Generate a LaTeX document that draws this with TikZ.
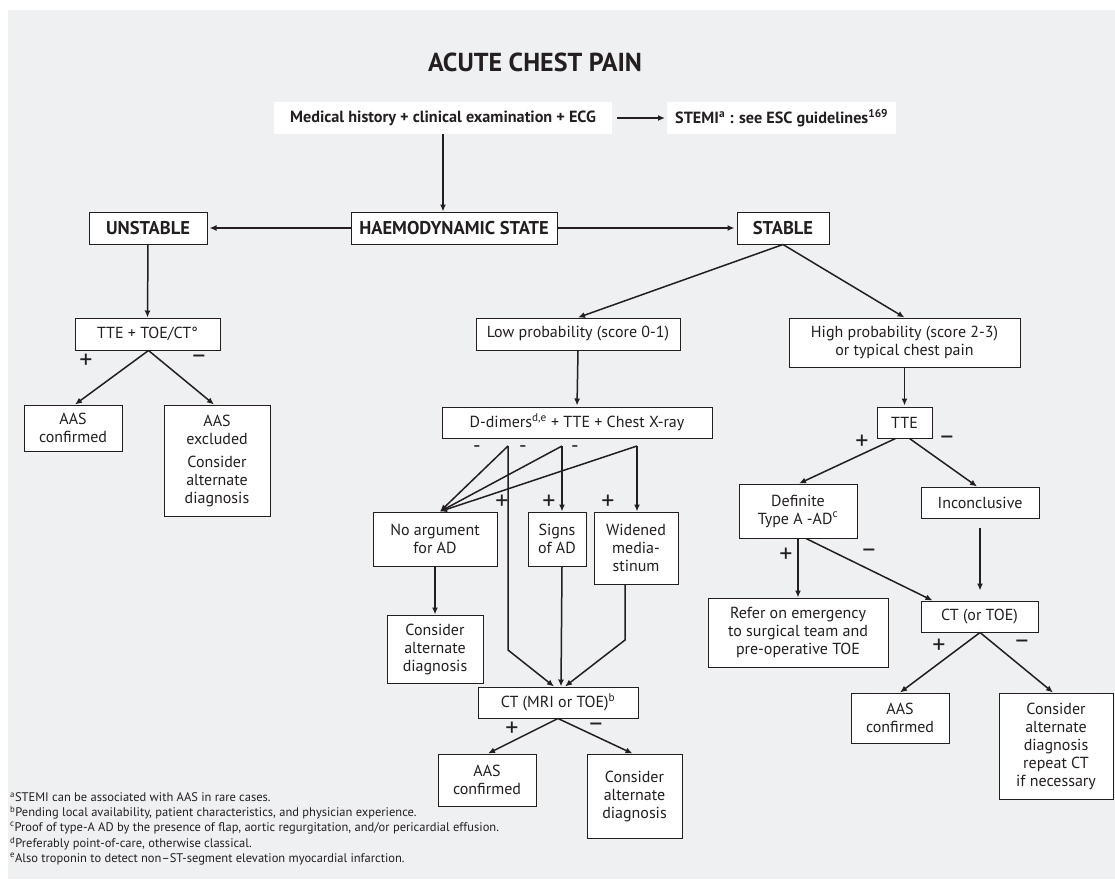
\documentclass[tikz,border=0pt]{standalone}
\usepackage{fontspec}
\setmainfont{PT Sans}
\usetikzlibrary{arrows.meta}
\definecolor{panel}{RGB}{239,240,242}
\definecolor{ink}{RGB}{35,31,32}
\begin{document}
\begin{tikzpicture}[x=1pt,y=-1pt,
  box/.style={draw=ink, fill=white, line width=1pt, align=center, inner sep=2pt,
              font=\fontsize{16}{18}\selectfont, text=ink},
  bbox/.style={box, font=\bfseries\fontsize{18.5}{21}\selectfont},
  plain/.style={fill=white, align=center, inner sep=2pt, font=\bfseries\fontsize{16.2}{18}\selectfont, text=ink},
  arr/.style={draw=ink, line width=1.5pt, -{Latex[length=7pt,width=6pt]}},
  ln/.style={draw=ink, line width=1.5pt},
  pm/.style={font=\fontsize{26}{26}\selectfont, text=ink, inner sep=0pt},
  hy/.style={font=\fontsize{21}{21}\selectfont, text=ink, inner sep=0pt},
  fn/.style={font=\fontsize{12.5}{14}\selectfont, anchor=west, inner sep=0pt, text=ink}]
\useasboundingbox (0,0) rectangle (1115,879);
\fill[white] (0,0) rectangle (1115,879);
\fill[panel] (8,10) rectangle (1115,879);

% title
\node[font=\bfseries\fontsize{26}{28}\selectfont, text=ink] (title) at (535,62) {ACUTE CHEST PAIN};

% top row
\node[plain, minimum width=338pt, minimum height=32pt] (med) at (443,118) {Medical history + clinical examination + ECG};
\node[plain, minimum height=32pt, inner xsep=8pt, anchor=west] (stemi) at (667,118) {STEMI\textsuperscript{a} : see ESC guidelines\textsuperscript{169}};

\node[bbox, minimum width=206pt, minimum height=32pt] (haemo) at (454,228) {HAEMODYNAMIC STATE};
\node[bbox, minimum width=118pt, minimum height=32pt] (unstable) at (148,228) {UNSTABLE};
\node[bbox, minimum width=92pt, minimum height=32pt] (stable) at (783,228) {STABLE};

% unstable branch
\node[box, minimum width=145pt, minimum height=32pt] (tte1) at (147.5,334) {TTE + TOE/CT°};
\node[box, minimum width=98pt, minimum height=46pt] (aas1) at (73,428) {AAS\\confirmed};
\node[box, minimum width=106pt, minimum height=111pt] (exc1) at (217,460.5) {AAS\\excluded\\[5pt]Consider\\alternate\\diagnosis};

% stable branch - low
\node[box, minimum width=204pt, minimum height=32pt] (low) at (578,334) {Low probability (score 0-1)};
\node[box, minimum width=270pt, minimum height=31pt] (dd) at (577,422.5) {D-dimers\textsuperscript{d,e} + TTE + Chest X-ray};
\node[box, minimum width=124pt, minimum height=54pt] (noarg) at (435,539) {No argument\\for AD};
\node[box, minimum width=58pt, minimum height=54pt, inner sep=1pt] (signs) at (557,539) {Signs\\of AD};
\node[box, minimum width=84pt, minimum height=72pt] (wide) at (636,548) {Widened\\media-\\stinum};
\node[box, minimum width=96pt, minimum height=68pt] (cons1) at (435,649) {Consider\\alternate\\diagnosis};
\node[box, minimum width=160pt, minimum height=31pt] (ct1) at (558,702.5) {CT (MRI or TOE)\textsuperscript{b}};
\node[box, minimum width=98pt, minimum height=52pt] (aas2) at (487,780) {AAS\\confirmed};
\node[box, minimum width=95pt, minimum height=84pt] (cons2) at (634.5,796) {Consider\\alternate\\diagnosis};

% stable branch - high
\node[box, minimum width=231pt, minimum height=49pt] (high) at (904.5,342.5) {High probability (score 2-3)\\or typical chest pain};
\node[box, minimum width=55pt, minimum height=31pt] (tte2) at (904.5,422.5) {TTE};
\node[box, minimum width=118pt, minimum height=54pt] (def) at (798,511) {Definite\\Type A -AD\textsuperscript{c}};
\node[box, minimum width=118pt, minimum height=31pt] (inc) at (980,502.5) {Inconclusive};
\node[box, minimum width=180pt, minimum height=69pt] (refer) at (798,632.5) {Refer on emergency\\to surgical team and\\pre-operative TOE};
\node[box, minimum width=117pt, minimum height=31pt] (ct2) at (979.5,616.5) {CT (or TOE)};
\node[box, minimum width=98pt, minimum height=50pt] (aas3) at (900,718) {AAS\\confirmed};
\node[box, minimum width=114pt, minimum height=106pt] (cons3) at (1056,746) {Consider\\alternate\\diagnosis\\repeat CT\\if necessary};

% connectors top
\draw[arr, shorten <=5pt, shorten >=2pt] (med.east) -- (stemi.west);
\draw[arr] (med.south) -- (med.south |- haemo.north);
\draw[arr, shorten >=2pt] (haemo.west) -- (unstable.east);
\draw[arr, shorten >=2pt] (haemo.east) -- (stable.west);
\draw[arr] (unstable.south) -- (tte1.north);
\draw[arr] ([xshift=1pt]tte1.south) -- ([xshift=2pt]aas1.north);
\draw[arr] ([xshift=1pt]tte1.south) -- ([xshift=-3pt]exc1.north);
\draw[arr] (stable.south) -- (low.north);
\draw[arr] (stable.south) -- (high.north);
\draw[arr, shorten >=1pt] (low.south) -- (dd.north);
\draw[arr, shorten >=1pt] (high.south) -- (tte2.north);

% D-dimer fan
\coordinate (p1) at (508,446);
\coordinate (p2) at (562,446);
\coordinate (p3) at (637,446);
\coordinate (k1) at (508,650);
\coordinate (k3) at (625,640);
\draw[arr] (p1) -- ([xshift=5pt]noarg.north);
\draw[arr] (p2) -- ([xshift=5pt]noarg.north);
\draw[arr] (p3) -- ([xshift=5pt]noarg.north);
\draw[arr] (p2) -- (p2 |- signs.north);
\draw[arr] (p3) -- (p3 |- wide.north);
\draw[arr] (p1) -- (k1) -- ([xshift=-4pt]ct1.north);
\draw[arr] (p2 |- signs.south) -- ([xshift=3pt]ct1.north);
\draw[arr] (k3 |- wide.south) -- (k3) -- ([xshift=7pt]ct1.north);
\draw[arr] (noarg.south) -- (cons1.north);
\draw[arr] (ct1.south) -- ([xshift=1pt]aas2.north);
\draw[arr] (ct1.south) -- ([xshift=-2pt]cons2.north);

% high branch connectors
\draw[arr] ([xshift=-9pt]tte2.south) -- ([xshift=1pt]def.north);
\draw[arr] ([xshift=5pt]tte2.south) -- ([xshift=-3pt]inc.north);
\draw[arr] (def.south) -- (refer.north);
\draw[arr] ([xshift=8pt]def.south) -- ([xshift=-47pt]ct2.north);
\draw[arr, shorten <=9pt, shorten >=10pt] (inc.south) -- (inc.south |- ct2.north);
\draw[arr] ([xshift=0.5pt]ct2.south) -- (aas3.north);
\draw[arr] ([xshift=0.5pt]ct2.south) -- ([xshift=-3pt]cons3.north);

% plus / minus labels
\node[pm] (l1) at (86,361) {+};
\node[pm] (l2) at (199,359) {–};
\node[hy] (l3) at (477,449) {-};
\node[hy] (l4) at (523,449) {-};
\node[hy] (l5) at (575,449) {-};
\node[pm] (l6) at (502,502) {+};
\node[pm] (l7) at (549,502) {+};
\node[pm] (l8) at (608,502) {+};
\node[pm] (l9) at (862,442) {+};
\node[pm] (l10) at (947,440) {–};
\node[pm] (l11) at (786,555) {+};
\node[pm] (l12) at (869,553) {–};
\node[pm] (l13) at (939,646) {+};
\node[pm] (l14) at (1022,644) {–};
\node[pm] (l15) at (512,729) {+};
\node[pm] (l16) at (596,727) {–};

% footnotes
\node[fn] (f1) at (10,797) {\textsuperscript{a}STEMI can be associated with AAS in rare cases.};
\node[fn] (f2) at (10,812.5) {\textsuperscript{b}Pending local availability, patient characteristics, and physician experience.};
\node[fn] (f3) at (10,828) {\textsuperscript{c}Proof of type-A AD by the presence of flap, aortic regurgitation, and/or pericardial effusion.};
\node[fn] (f4) at (10,843.5) {\textsuperscript{d}Preferably point-of-care, otherwise classical.};
\node[fn] (f5) at (10,859) {\textsuperscript{e}Also troponin to detect non–ST-segment elevation myocardial infarction.};
\end{tikzpicture}
\end{document}
